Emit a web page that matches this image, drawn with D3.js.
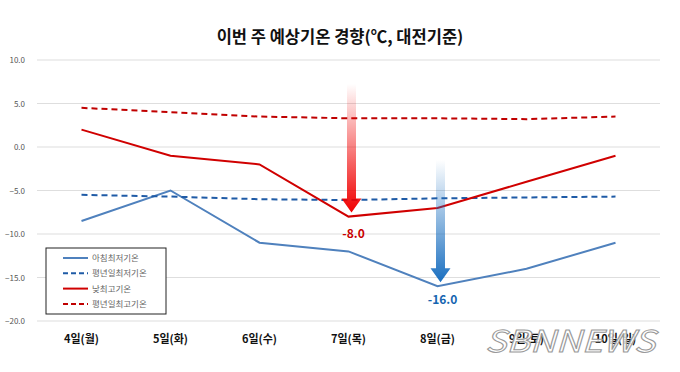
<!DOCTYPE html>
<meta charset="utf-8">
<style>
  body { margin: 0; background: #fff; }
  text { font-family: "Noto Sans CJK KR", "Noto Sans", sans-serif; }
</style>
<script src="https://cdn.jsdelivr.net/npm/d3@7"></script>
<svg width="680" height="372"></svg>
<script>
// data
var days = ["4일(월)", "5일(화)", "6일(수)", "7일(목)", "8일(금)", "9일(토)", "10일(일)"];
var lowToday = [-8.5, -5.0, -11.0, -12.0, -16.0, -14.0, -11.0];
var lowNormal = [-5.5, -5.7, -6.0, -6.1, -5.9, -5.8, -5.7];
var highToday = [2.0, -1.0, -2.0, -8.0, -7.0, -4.0, -1.0];
var highNormal = [4.5, 4.0, 3.5, 3.3, 3.3, 3.2, 3.5];
var yTicks = [10, 5, 0, -5, -10, -15, -20];

var series = [
  {name: "아침최저기온", values: lowToday, color: "#4f81bd", dash: null, w: 2},
  {name: "평년일최저기온", values: lowNormal, color: "#1f5ba6", dash: "6,4", w: 2},
  {name: "낮최고기온", values: highToday, color: "#d00000", dash: null, w: 2},
  {name: "평년일최고기온", values: highNormal, color: "#c00000", dash: "6,4", w: 2}
];

var svg = d3.select("svg");

var x = d3.scalePoint().domain(days).range([37, 660]).padding(0.5);
var y = d3.scaleLinear().domain([-20, 10]).range([321, 60]);

// title
svg.append("text")
  .attr("x", 340).attr("y", 43)
  .attr("text-anchor", "middle")
  .attr("font-size", 16.5).attr("font-weight", "bold")
  .attr("fill", "#111")
  .text("이번 주 예상기온 경향(℃, 대전기준)");

// grid
svg.append("g").selectAll("line")
  .data(yTicks).enter().append("line")
  .attr("x1", 37).attr("x2", 660)
  .attr("y1", d => y(d)).attr("y2", d => y(d))
  .attr("stroke", "#dedede").attr("stroke-width", 1.2);

svg.append("g").selectAll("text")
  .data(yTicks).enter().append("text")
  .attr("x", 25).attr("y", d => y(d) + 3)
  .attr("text-anchor", "end")
  .attr("font-size", 8).attr("fill", "#555")
  .text(d => d3.format(".1f")(d));

// x labels
svg.append("g").selectAll("text")
  .data(days).enter().append("text")
  .attr("x", d => x(d)).attr("y", 343)
  .attr("text-anchor", "middle")
  .attr("font-size", 11).attr("font-weight", "bold")
  .attr("fill", "#111")
  .text(d => d);

// lines
var line = d3.line().x((d, i) => x(days[i])).y(d => y(d));
series.forEach(function (s) {
  svg.append("path")
    .datum(s.values)
    .attr("d", line)
    .attr("fill", "none")
    .attr("stroke", s.color)
    .attr("stroke-width", s.w)
    .attr("stroke-dasharray", s.dash);
});

// arrows
var defs = svg.append("defs");
function grad(id, c) {
  var g = defs.append("linearGradient").attr("id", id)
    .attr("x1", 0).attr("y1", 0).attr("x2", 0).attr("y2", 1);
  g.append("stop").attr("offset", "0%").attr("stop-color", c).attr("stop-opacity", 0);
  g.append("stop").attr("offset", "100%").attr("stop-color", c).attr("stop-opacity", 1);
}
grad("gRed", "#f00000");
grad("gBlue", "#1a6fc0");

function arrow(day, val, top, id, col, label, ly) {
  var cx = x(day) + 3, tip = y(val) - 4, head = 14, sw = 4.5, hw = 10;
  var p = d3.path();
  p.moveTo(cx - sw, top); p.lineTo(cx + sw, top); p.lineTo(cx + sw, tip - head);
  p.lineTo(cx + hw, tip - head); p.lineTo(cx, tip); p.lineTo(cx - hw, tip - head);
  p.lineTo(cx - sw, tip - head); p.closePath();
  svg.append("path").attr("d", p.toString()).attr("fill", "url(#" + id + ")");
  svg.append("text")
    .attr("x", cx + 2).attr("y", ly)
    .attr("text-anchor", "middle")
    .attr("font-size", 12).attr("font-weight", "bold")
    .attr("fill", col)
    .text(label);
}
arrow(days[3], highToday[3], 84, "gRed", "#c80000", "-8.0", 238);
arrow(days[4], lowToday[4], 160, "gBlue", "#1565b0", "-16.0", 304);

// legend
var lg = svg.append("g").attr("transform", "translate(46,248)");
lg.append("rect").attr("width", 120).attr("height", 66)
  .attr("fill", "#fff").attr("stroke", "#222").attr("stroke-width", 1);
series.forEach(function (s, i) {
  var yy = 10 + i * 15.3;
  lg.append("line")
    .attr("x1", 17).attr("x2", 42).attr("y1", yy).attr("y2", yy)
    .attr("stroke", s.color).attr("stroke-width", s.w)
    .attr("stroke-dasharray", s.dash ? "5,3" : null);
  lg.append("text").attr("x", 46).attr("y", yy + 3)
    .attr("font-size", 8.5).attr("fill", "#666").text(s.name);
});

// watermark
svg.append("text")
  .attr("x", 570).attr("y", 352)
  .attr("text-anchor", "middle")
  .attr("font-family", "DejaVu Sans")
  .attr("font-size", 30).attr("font-style", "italic")
  .attr("textLength", 170).attr("lengthAdjust", "spacingAndGlyphs")
  .attr("fill", "rgba(255,255,255,0.85)")
  .attr("stroke", "#999").attr("stroke-width", 1)
  .text("SBNNEWS");
</script>
